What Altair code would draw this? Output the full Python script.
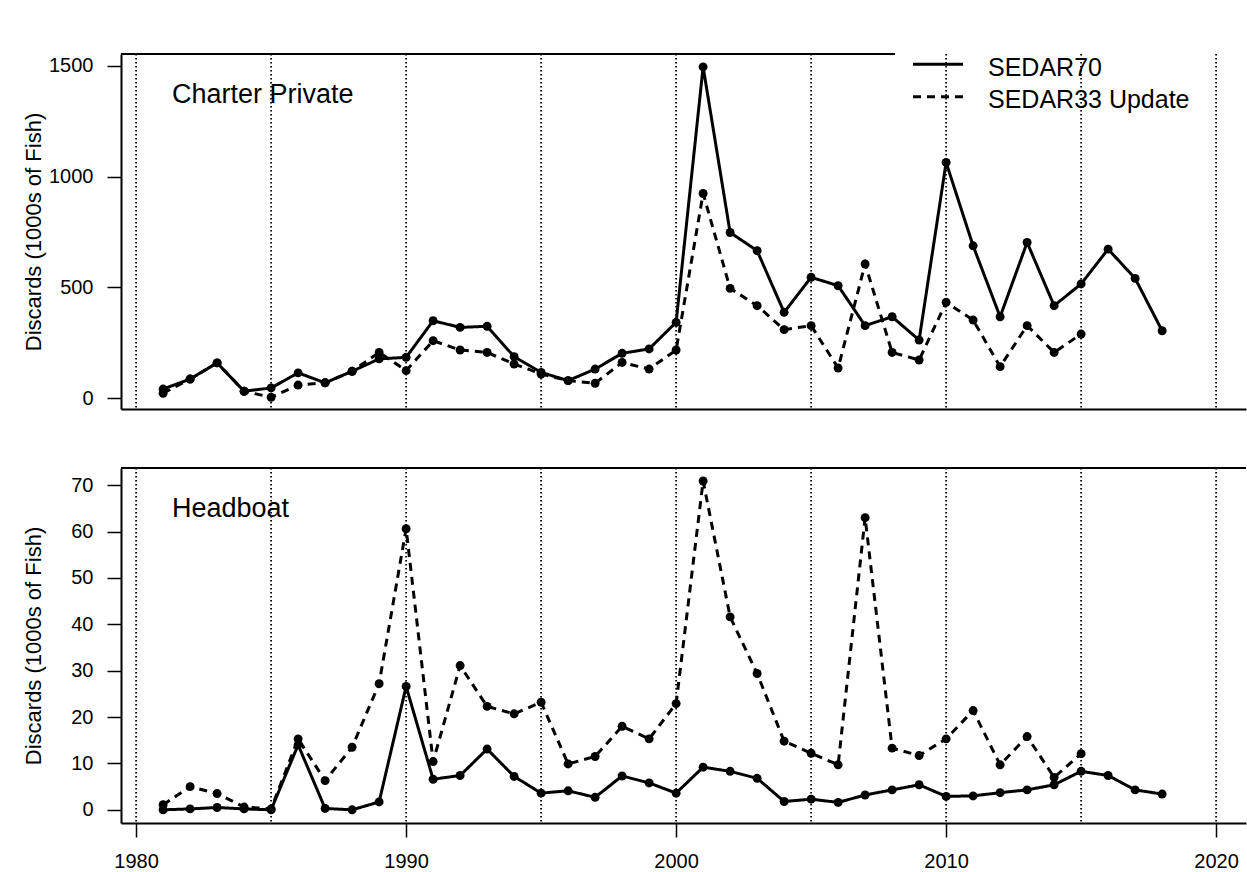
import altair as alt
import pandas as pd

FONT = "Liberation Sans"

series = ["SEDAR70", "SEDAR33 Update"]
panel_labels = ["Charter Private", "Headboat"]
y_title = "Discards (1000s of Fish)"

years70 = list(range(1981, 2019))
years33 = list(range(1981, 2016))

cp_sedar70 = [42, 87, 160, 32, 47, 115, 70, 122, 178, 185,
              350, 320, 325, 188, 117, 80, 132, 203, 223, 343,
              1495, 748, 666, 388, 546, 508, 328, 368, 263, 1064,
              688, 368, 703, 418, 516, 673, 541, 305]
cp_sedar33 = [23, 87, 160, 32, 5, 60, 70, 122, 207, 125,
              260, 218, 207, 155, 110, 80, 68, 162, 132, 218,
              924, 496, 418, 310, 328, 137, 606, 207, 173, 433,
              353, 143, 328, 207, 290]
hb_sedar70 = [0.0, 0.2, 0.5, 0.2, 0.0, 14.0, 0.3, 0.0, 1.7, 26.6,
              6.6, 7.4, 13.1, 7.2, 3.6, 4.1, 2.7, 7.3, 5.8, 3.6,
              9.2, 8.3, 6.8, 1.8, 2.3, 1.6, 3.2, 4.3, 5.4, 2.9,
              3.0, 3.7, 4.3, 5.4, 8.3, 7.4, 4.3, 3.4]
hb_sedar33 = [1.1, 5.0, 3.5, 0.6, 0.2, 15.3, 6.3, 13.5, 27.2, 60.6,
              10.4, 31.1, 22.3, 20.7, 23.2, 9.9, 11.5, 18.0, 15.3, 22.9,
              70.9, 41.6, 29.4, 14.8, 12.2, 9.7, 63.0, 13.3, 11.7, 15.3,
              21.4, 9.7, 15.8, 7.0, 12.1]

grid_years = [1980, 1985, 1990, 1995, 2000, 2005, 2010, 2015, 2020]
x_tick_years = [1980, 1990, 2000, 2010, 2020]
cp_ticks = [0, 500, 1000, 1500]
hb_ticks = [0, 10, 20, 30, 40, 50, 60, 70]

W = 1125
H = 355


def long_df(v70, v33):
    a = pd.DataFrame({"year": years70, "value": v70, "series": series[0]})
    b = pd.DataFrame({"year": years33, "value": v33, "series": series[1]})
    return pd.concat([a, b], ignore_index=True)


x_scale = alt.Scale(domain=[1979.44, 1979.44 + W / 27.0], nice=False, zero=False)
dash_scale = alt.Scale(domain=series, range=[[1, 0], [8, 6]])


def panel(df, label, ydomain, yticks, bottom):
    if bottom:
        xaxis = alt.Axis(values=x_tick_years, format="d", title=None, grid=False,
                         tickSize=14, tickWidth=1.5, tickColor="black",
                         labelFontSize=20, labelFont=FONT, labelColor="black",
                         labelPadding=14, domainColor="black", domainWidth=2)
    else:
        xaxis = alt.Axis(values=x_tick_years, labels=False, ticks=False, title=None,
                         grid=False, domainColor="black", domainWidth=2)
    yaxis = alt.Axis(values=yticks, format="d", title=y_title, grid=False,
                     tickSize=14, tickWidth=1.5, tickColor="black",
                     labelFontSize=20, labelFont=FONT, labelColor="black",
                     labelPadding=14, domainColor="black", domainWidth=2,
                     titleFont=FONT, titleFontSize=22, titleFontWeight="normal",
                     titleColor="black", titleAngle=270, titleBaseline="alphabetic",
                     titleAlign="center", titleX=-81, titleY=H / 2)
    yscale = alt.Scale(domain=ydomain, nice=False, zero=False)
    X = alt.X("year:Q", scale=x_scale, axis=xaxis)
    Y = alt.Y("value:Q", scale=yscale, axis=yaxis)

    vlines = alt.Chart(pd.DataFrame({"year": grid_years})).mark_rule(
        color="black", strokeDash=[1.5, 2.5], strokeWidth=1.8
    ).encode(x=X)

    lines = alt.Chart(df).mark_line(color="black", strokeWidth=3).encode(
        x=X, y=Y,
        strokeDash=alt.StrokeDash("series:N", scale=dash_scale, legend=None),
        detail="series:N",
    )
    pts = alt.Chart(df).mark_circle(color="black", size=80, opacity=1).encode(x=X, y=Y)

    top_line = alt.Chart(pd.DataFrame({"a": [0]})).mark_rule(
        color="black", strokeWidth=2
    ).encode(x=alt.value(0), x2=alt.value(W if bottom else 774), y=alt.value(0))

    txt = alt.Chart(pd.DataFrame({"label": [label]})).mark_text(
        align="left", baseline="alphabetic", fontSize=27, font=FONT, color="black"
    ).encode(x=alt.value(51), y=alt.value(48.5), text="label:N")

    layers = [vlines, lines, pts, top_line, txt]

    if not bottom:
        leg_df = pd.DataFrame({"series": series})
        for i, s in enumerate(series):
            sub = alt.Chart(leg_df).transform_filter(alt.datum.series == s)
            layers.append(
                sub.mark_rule(color="black", strokeWidth=3).encode(
                    x=alt.value(792), x2=alt.value(842), y=alt.value(10.3 + 32.4 * i),
                    strokeDash=alt.StrokeDash("series:N", scale=dash_scale, legend=None),
                )
            )
            layers.append(
                sub.mark_text(align="left", baseline="alphabetic", fontSize=25,
                              font=FONT, color="black").encode(
                    x=alt.value(867), y=alt.value(22 + 32.4 * i), text="series:N"
                )
            )

    return alt.layer(*layers).properties(width=W, height=H)


top = panel(long_df(cp_sedar70, cp_sedar33), panel_labels[0], [-48, 1553], cp_ticks, False)
bot = panel(long_df(hb_sedar70, hb_sedar33), panel_labels[1], [-2.84, 73.7], hb_ticks, True)

chart = alt.vconcat(top, bot, spacing=57).properties(
    padding={"left": 22, "top": 53, "right": 0, "bottom": 0},
    background="white",
).configure_view(stroke=None).configure_concat(spacing=57)

chart.save("out.html", embed_options={"renderer": "svg", "actions": False})
